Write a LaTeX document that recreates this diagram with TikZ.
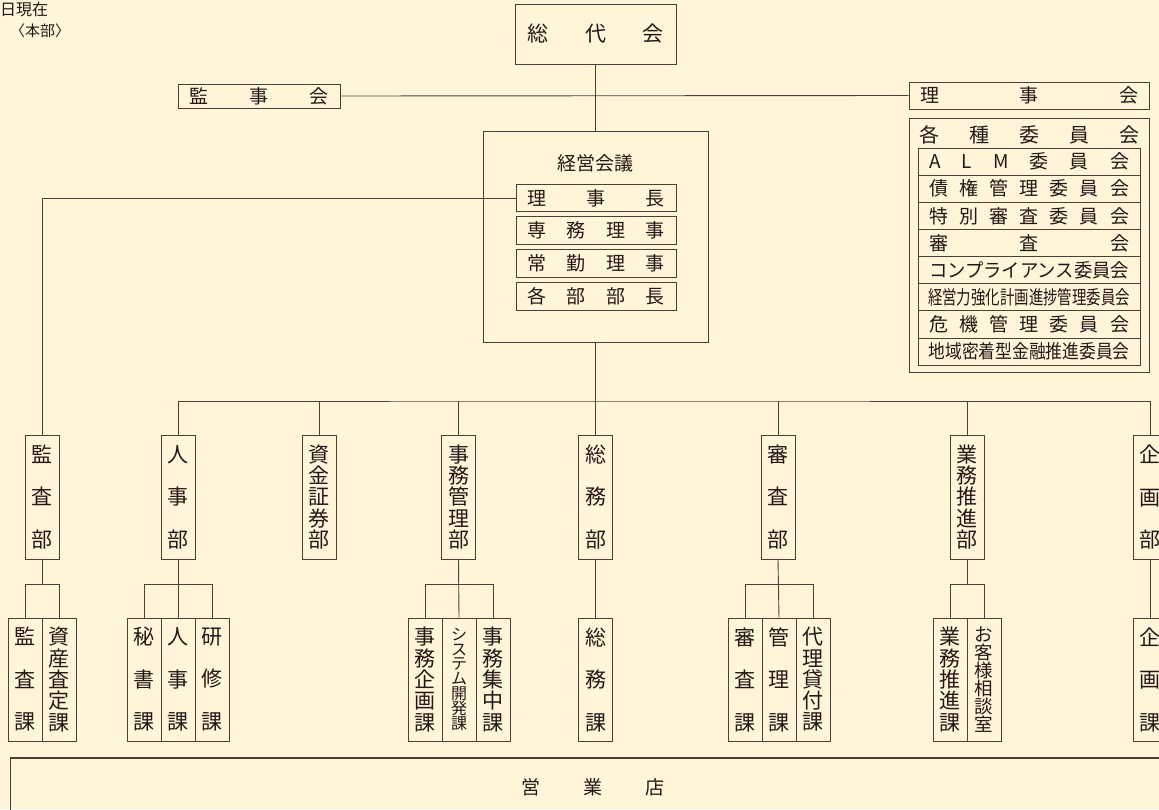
\documentclass[tikz,border=0pt]{standalone}
\usepackage{fontspec}
\setmainfont{Noto Sans CJK JP}
\usepackage{graphicx}
\usepackage{tikz}

\definecolor{paper}{HTML}{FFF6D9}
\definecolor{ink}{HTML}{231815}
\definecolor{rule}{HTML}{4A4038}

\newcommand{\kin}[2]{\makebox[#1][s]{#2}}
\newcommand{\fit}[2]{\resizebox{#1}{\height}{#2}}

\begin{document}
\begin{tikzpicture}[x=1pt,y=-1pt,
    every node/.style={text=ink},
    waku/.style={draw=rule, line width=1pt, inner sep=0pt},
    bubox/.style={waku, minimum width=34, minimum height=124, align=center},
    kabox/.style={waku, minimum width=34, minimum height=123, align=center},
    tatewide/.style={font=\fontsize{21}{42.5}\selectfont},
    tatetight/.style={font=\fontsize{21}{21.3}\selectfont},
    iinrow/.style={waku, minimum width=222, minimum height=27.15, font=\fontsize{19}{19}\selectfont},
    yakurow/.style={waku, minimum width=160, minimum height=27.5, font=\fontsize{19}{19}\selectfont},
    conn/.style={draw=rule, line width=0.9pt}]

    \fill[paper] (0,0) rectangle (1159,809);
    \useasboundingbox (0,0) rectangle (1159,809);
    \clip (0,0) rectangle (1159,809);

    % heading
    \node[anchor=west, inner sep=0, font=\fontsize{16}{16}\selectfont] (date) at (0,9) {日現在};
    \node[anchor=west, inner sep=0, font=\fontsize{15}{15}\selectfont] (honbu) at (10,31) {〈本部〉};

    % top
    \node[waku, minimum width=161, minimum height=60, font=\fontsize{21}{21}\selectfont] (sodai) at (595.5,34) {\kin{136pt}{総\hfill 代\hfill 会}};
    \node[waku, minimum width=162, minimum height=24, font=\fontsize{19}{19}\selectfont] (kanjikai) at (259,96) {\kin{139pt}{監\hfill 事\hfill 会}};
    \node[waku, minimum width=240, minimum height=27, font=\fontsize{19}{19}\selectfont] (rijikai) at (1029,95.5) {\kin{218pt}{理\hfill 事\hfill 会}};

    % committees
    \node[waku, minimum width=240, minimum height=254] (iinkai) at (1029,245) {};
    \node[inner sep=0, font=\fontsize{20}{20}\selectfont] (iinkaih) at (1029,134.5) {\kin{220pt}{各\hfill 種\hfill 委\hfill 員\hfill 会}};
    \node[iinrow] (alm) at (1029,161.6) {\kin{200pt}{A\hfill L\hfill M\hfill 委\hfill 員\hfill 会}};
    \node[iinrow] (saiken) at (1029,188.7) {\kin{200pt}{債\hfill 権\hfill 管\hfill 理\hfill 委\hfill 員\hfill 会}};
    \node[iinrow] (tokubetsu) at (1029,215.9) {\kin{200pt}{特\hfill 別\hfill 審\hfill 査\hfill 委\hfill 員\hfill 会}};
    \node[iinrow] (shinsakai) at (1029,243.0) {\kin{200pt}{審\hfill 査\hfill 会}};
    \node[iinrow] (compliance) at (1029,270.2) {\fit{200pt}{コンプライアンス委員会}};
    \node[iinrow] (keieiryoku) at (1029,297.3) {\fit{202pt}{経営力強化計画進捗管理委員会}};
    \node[iinrow] (kiki) at (1029,324.5) {\kin{200pt}{危\hfill 機\hfill 管\hfill 理\hfill 委\hfill 員\hfill 会}};
    \node[iinrow] (chiiki) at (1029,351.6) {\fit{201pt}{地域密着型金融推進委員会}};

    % board
    \node[waku, minimum width=225, minimum height=211] (keiei) at (595.5,236.5) {};
    \node[inner sep=0, font=\fontsize{19}{19}\selectfont] (keieih) at (595.5,163) {経営会議};
    \node[yakurow] (rijicho) at (596,198) {\kin{137pt}{理\hfill 事\hfill 長}};
    \node[yakurow] (senmu) at (596,230.5) {\kin{137pt}{専\hfill 務\hfill 理\hfill 事}};
    \node[yakurow] (jokin) at (596,263.5) {\kin{137pt}{常\hfill 勤\hfill 理\hfill 事}};
    \node[yakurow] (buchou) at (596,296.5) {\kin{137pt}{各\hfill 部\hfill 部\hfill 長}};

    % departments
    \node[bubox, tatewide] (kansa) at (42,497) {監\\査\\部};
    \node[bubox, tatewide] (jinji) at (178,497) {人\\事\\部};
    \node[bubox, tatetight] (shikin) at (319,497) {資\\金\\証\\券\\部};
    \node[bubox, tatetight] (jimu) at (458.5,497) {事\\務\\管\\理\\部};
    \node[bubox, tatewide] (somu) at (595.5,497) {総\\務\\部};
    \node[bubox, tatewide] (shinsa) at (778,497) {審\\査\\部};
    \node[bubox, tatetight] (gyomu) at (967,497) {業\\務\\推\\進\\部};
    \node[bubox, tatewide] (kikaku) at (1150,497) {企\\画\\部};

    % sections
    \node[kabox, tatewide] (kansaka) at (25,679.5) {監\\査\\課};
    \node[kabox, tatetight] (satei) at (59,679.5) {資\\産\\査\\定\\課};
    \node[kabox, tatewide] (hisho) at (144,679.5) {秘\\書\\課};
    \node[kabox, tatewide] (jinjika) at (178,679.5) {人\\事\\課};
    \node[kabox, tatewide] (kenshu) at (212,679.5) {研\\修\\課};
    \node[kabox, tatetight] (jkikaku) at (425,679.5) {事\\務\\企\\画\\課};
    \node[kabox, font=\fontsize{16}{14.6}\selectfont] (system) at (459,679.5) {シ\\ス\\テ\\ム\\開\\発\\課};
    \node[kabox, tatetight] (shuchu) at (493,679.5) {事\\務\\集\\中\\課};
    \node[kabox, tatewide] (somuka) at (595.5,679.5) {総\\務\\課};
    \node[kabox, tatewide] (shinsaka) at (745,679.5) {審\\査\\課};
    \node[kabox, tatewide] (kanri) at (779,679.5) {管\\理\\課};
    \node[kabox, tatetight] (dairi) at (813,679.5) {代\\理\\貸\\付\\課};
    \node[kabox, tatetight] (gyosuika) at (950,679.5) {業\\務\\推\\進\\課};
    \node[kabox, font=\fontsize{18.5}{18}\selectfont] (sodan) at (984,679.5) {お\\客\\様\\相\\談\\室};
    \node[kabox, tatewide] (kikakuka) at (1150,679.5) {企\\画\\課};

    % branches
    \node[waku, anchor=north, minimum width=1165, minimum height=62, font=\fontsize{19}{19}\selectfont] (eigyo) at (592.5,758) {\raisebox{6pt}{\kin{143pt}{営\hfill 業\hfill 店}}};
    \draw[draw=rule, line width=2.2pt] (eigyo.north west) -- (eigyo.north east);

    % connectors
    \draw[conn] (kanjikai.east) -- (rijikai.west);
    \draw[conn] (sodai.south) -- (keiei.north);
    \draw[conn] (rijicho.west) -| (kansa.north);
    \coordinate (bus) at (595.5,401);
    \draw[conn] (keiei.south) -- (bus);
    \draw[conn] (jinji.north) |- (bus) -| (kikaku.north);
    \draw[conn] (shikin.north) -- (shikin.north |- bus);
    \draw[conn] (jimu.north) -- (jimu.north |- bus);
    \draw[conn] (somu.north) -- (somu.north |- bus);
    \draw[conn] (shinsa.north) -- (shinsa.north |- bus);
    \draw[conn] (gyomu.north) -- (gyomu.north |- bus);

    \draw[conn] (kansa.south) -- ++(0,25) coordinate (kansaJ);
    \draw[conn] (kansaka.north) |- (kansaJ) -| (satei.north);
    \draw[conn] (jinji.south) -- (jinjika.north);
    \path (jinji.south) ++(0,25) coordinate (jinjiJ);
    \draw[conn] (hisho.north) |- (jinjiJ) -| (kenshu.north);
    \draw[conn] (jimu.south) -- (system.north);
    \path (jimu.south) ++(0,25) coordinate (jimuJ);
    \draw[conn] (jkikaku.north) |- (jimuJ) -| (shuchu.north);
    \draw[conn] (somu.south) -- (somuka.north);
    \draw[conn] (shinsa.south) -- (kanri.north);
    \path (shinsa.south) ++(0,25) coordinate (shinsaJ);
    \draw[conn] (shinsaka.north) |- (shinsaJ) -| (dairi.north);
    \draw[conn] (gyomu.south) -- ++(0,25) coordinate (gyomuJ);
    \draw[conn] (gyosuika.north) |- (gyomuJ) -| (sodan.north);
    \draw[conn] (kikaku.south) -- (kikakuka.north);
\end{tikzpicture}
\end{document}
